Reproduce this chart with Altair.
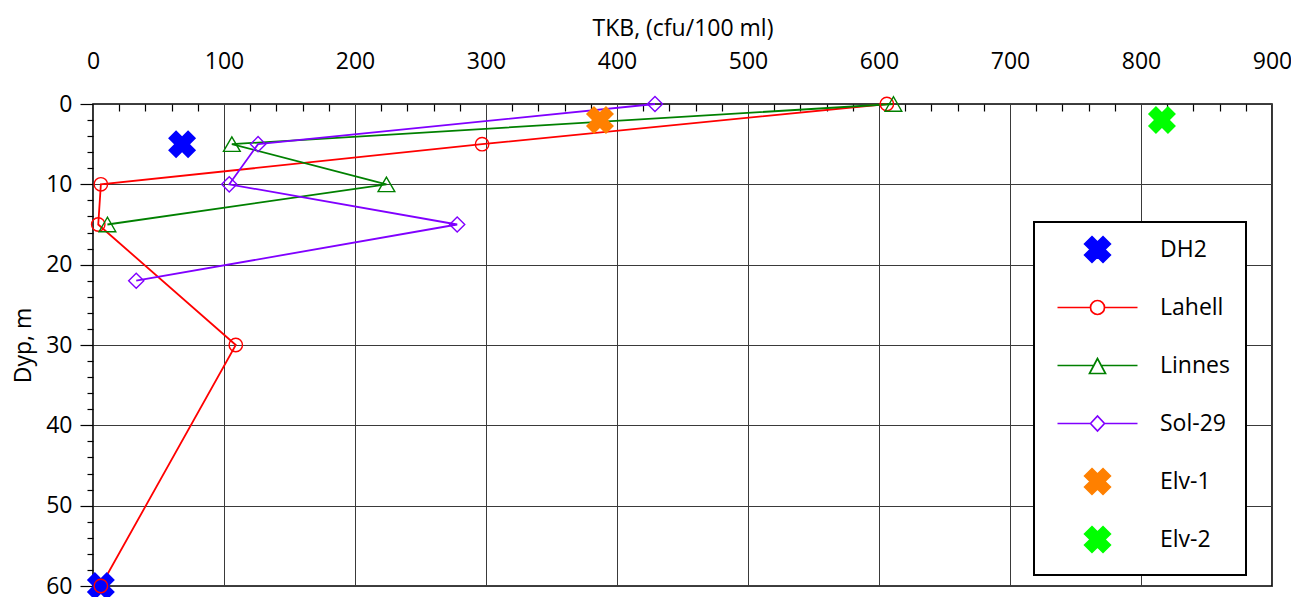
import math
import altair as alt
import pandas as pd

# ---------------- data ----------------
series_names = ["DH2", "Lahell", "Linnes", "Sol-29", "Elv-1", "Elv-2"]
series_colors = ["#0000FF", "#FF0000", "#008000", "#8000FF", "#FF8000", "#00FF00"]

dh2_tkb = [68, 6]
dh2_depth = [5, 60]
lahell_tkb = [606, 297, 6, 4, 109, 6]
lahell_depth = [0, 5, 10, 15, 30, 60]
linnes_tkb = [611, 106, 224, 11]
linnes_depth = [0, 5, 10, 15]
sol29_tkb = [429, 126, 104, 278, 33]
sol29_depth = [0, 5, 10, 15, 22]
elv1_tkb = [387]
elv1_depth = [2]
elv2_tkb = [816]
elv2_depth = [2]

x_major = [0, 100, 200, 300, 400, 500, 600, 700, 800, 900]
x_minor = [20, 40, 60, 80, 120, 140, 160, 180, 220, 240, 260, 280, 320, 340, 360, 380,
           420, 440, 460, 480, 520, 540, 560, 580, 620, 640, 660, 680, 720, 740, 760, 780,
           820, 840, 860, 880]
y_major = [0, 10, 20, 30, 40, 50, 60]
y_minor = [2, 4, 6, 8, 12, 14, 16, 18, 22, 24, 26, 28, 32, 34, 36, 38, 42, 44, 46, 48,
           52, 54, 56, 58]

rows = []
for name, tkb, depth in [("DH2", dh2_tkb, dh2_depth), ("Lahell", lahell_tkb, lahell_depth),
                         ("Linnes", linnes_tkb, linnes_depth), ("Sol-29", sol29_tkb, sol29_depth),
                         ("Elv-1", elv1_tkb, elv1_depth), ("Elv-2", elv2_tkb, elv2_depth)]:
    for t, d in zip(tkb, depth):
        rows.append({"series": name, "tkb": t, "depth": d})
df = pd.DataFrame(rows)
color_of = dict(zip(series_names, series_colors))

# ---------------- styles ----------------
FONT = "Open Sans"
LEG_SIZE = 400
U = math.sqrt(LEG_SIZE) / 2.0  # px per custom-path unit


def q(v):
    return f"{v / U:.3f}"


# invisible move-tos so that every legend symbol has the same height
EXTENT = f"M0,{q(-16)}M0,{q(16)}"


def line_gap(gl, gr):
    return f"M{q(-40)},0L{q(-gl)},0M{q(gr)},0L{q(40)},0"


def cross_path(R, S):
    pts = [(-R, -S), (-S, -S), (-S, -R), (S, -R), (S, -S), (R, -S),
           (R, S), (S, S), (S, R), (-S, R), (-S, S), (-R, S)]
    c = math.sqrt(0.5)
    rot = [((x - y) * c, (x + y) * c) for x, y in pts]
    return "M" + "L".join(f"{q(x)},{q(y)}" for x, y in rot) + "Z"


cr = 7.0
circle_leg = EXTENT + line_gap(cr, cr) + \
    f"M{q(cr)},0A{q(cr)},{q(cr)},0,1,1,{q(-cr)},0A{q(cr)},{q(cr)},0,1,1,{q(cr)},0"
tri_leg = EXTENT + line_gap(3.7, 3.7) + f"M0,{q(-7)}L{q(-8)},{q(8)}L{q(8)},{q(8)}Z"
dia_leg = EXTENT + line_gap(7, 7) + f"M{q(-7)},0L0,{q(-7.5)}L{q(7)},0L0,{q(7.5)}Z"
x_leg = EXTENT + cross_path(13.0, 5.2)
legend_paths = [x_leg, circle_leg, tri_leg, dia_leg, x_leg, x_leg]
legend_fills = ["#0000FF", "transparent", "transparent", "transparent", "#FF8000", "#00FF00"]

x_scale = alt.Scale(domain=[0, 900], nice=False, zero=False)
y_scale = alt.Scale(domain=[0, 60], reverse=True, nice=False, zero=False)

main_x = alt.Axis(orient="top", values=x_major, grid=True, ticks=False, domain=False,
                  labelPadding=31, labelFlush=False, title="TKB, (cfu/100 ml)", titlePadding=10)
main_y = alt.Axis(orient="left", values=y_major, grid=True, ticks=True, tickSize=13,
                  domain=False, labelPadding=8, labelFlush=False, title="Dyp, m", titlePadding=10)
minor_x = alt.Axis(orient="top", values=x_minor, grid=False, labels=False, domain=False,
                   ticks=True, tickSize=7, offset=-7, title=None)
minor_y = alt.Axis(orient="left", values=y_minor, grid=False, labels=False, domain=False,
                   ticks=True, tickSize=6, title=None)

base = alt.Chart(df)


def enc(chart, xaxis=None, yaxis=None):
    return chart.encode(
        x=alt.X("tkb:Q", scale=x_scale, axis=xaxis),
        y=alt.Y("depth:Q", scale=y_scale, axis=yaxis),
    )


def sel(name):
    return base.transform_filter(alt.datum.series == name)


def line_layer(name, xaxis=None, yaxis=None):
    ch = sel(name).mark_line(strokeWidth=1.8, color=color_of[name])
    return enc(ch, xaxis, yaxis).encode(order=alt.Order("depth:Q"))


def cross_layer(name, xaxis=None, yaxis=None):
    ch = sel(name).mark_point(shape="cross", angle=45, filled=True, size=800, opacity=1,
                              color=color_of[name])
    return enc(ch, xaxis, yaxis)


def open_layer(name, shape, size):
    ch = sel(name).mark_point(shape=shape, filled=False, size=size, strokeWidth=1.4,
                              opacity=1, color=color_of[name])
    return enc(ch)


leg = alt.Legend(title=None, orient="none", legendX=941, legendY=118, symbolSize=LEG_SIZE,
                 symbolStrokeWidth=1.7, symbolOffset=36, labelOffset=51, rowPadding=19,
                 padding=16, strokeColor="black", fillColor="white", labelFontSize=23,
                 labelFont=FONT, labelColor="black")

# legend-only layer: no rows reach the plot, the legend comes from the explicit scale domains
legend_layer = enc(base.transform_filter("false").mark_point(opacity=1, strokeWidth=1.7)).encode(
    shape=alt.Shape("series:N", scale=alt.Scale(domain=series_names, range=legend_paths), legend=leg),
    stroke=alt.Stroke("series:N", scale=alt.Scale(domain=series_names, range=series_colors), legend=leg),
    fill=alt.Fill("series:N", scale=alt.Scale(domain=series_names, range=legend_fills), legend=leg),
)

layers = [
    line_layer("Lahell", main_x, main_y),
    line_layer("Linnes"),
    line_layer("Sol-29"),
    cross_layer("DH2", minor_x, minor_y),
    cross_layer("Elv-1"),
    cross_layer("Elv-2"),
    open_layer("Lahell", "circle", 180),
    open_layer("Linnes", "triangle-up", 280),
    open_layer("Sol-29", "diamond", 230),
    legend_layer,
]

chart = alt.layer(*layers).resolve_axis(
    x="independent", y="independent"
).properties(
    width=1179, height=482,
    padding={"left": 93, "top": 104, "right": 19, "bottom": 11},
    autosize=alt.AutoSizeParams(type="none"),
).configure_view(
    stroke="black", strokeWidth=1.6
).configure_axis(
    labelFont=FONT, labelFontSize=23, labelColor="black",
    titleFont=FONT, titleFontSize=23, titleFontWeight="normal", titleColor="black",
    gridColor="#3a3a3a", gridWidth=1, gridOpacity=1, tickColor="black", tickWidth=1.2,
).configure_legend(strokeWidth=2)

chart.save("out.html", embed_options={"renderer": "svg", "actions": False})
